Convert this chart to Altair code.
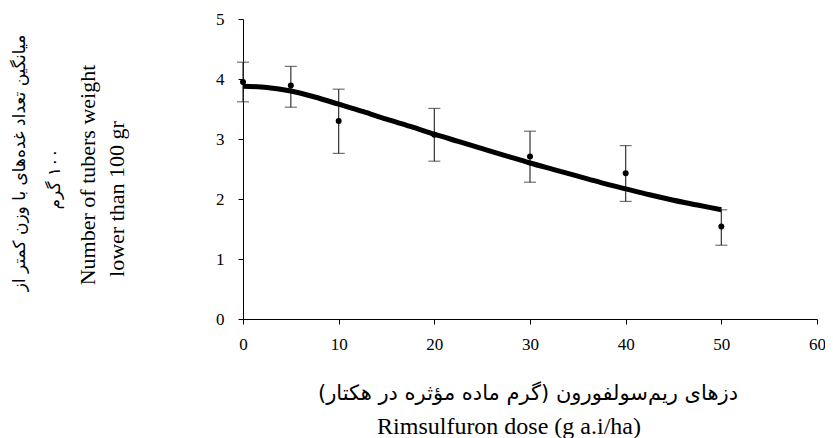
import altair as alt
import pandas as pd

# observed means and error bars
dose = [0, 5, 10, 20, 30, 40, 50]
mean = [3.95, 3.89, 3.30, 3.07, 2.71, 2.43, 1.54]
err_lo = [3.62, 3.53, 2.76, 2.63, 2.28, 1.96, 1.23]
err_hi = [4.28, 4.21, 3.83, 3.51, 3.13, 2.89, 1.82]

# fitted curve
curve_x = [0, 2.5, 5, 7.5, 10, 12.5, 15, 17.5, 20, 22.5, 25, 27.5, 30,
           32.5, 35, 37.5, 40, 42.5, 45, 47.5, 50]
curve_y = [3.88, 3.86, 3.80, 3.70, 3.58, 3.46, 3.33, 3.21, 3.08, 2.96, 2.84,
           2.72, 2.60, 2.49, 2.38, 2.27, 2.17, 2.07, 1.98, 1.90, 1.82]

x_ticks = [0, 10, 20, 30, 40, 50, 60]
y_ticks = [0, 1, 2, 3, 4, 5]

y_title_fa_1 = "میانگین تعداد غده‌های با وزن کمتر از"
y_title_fa_2 = "\u200f۱۰۰ گرم"
y_title_en_1 = "Number of tubers weight"
y_title_en_2 = "lower than 100 gr"
x_title_fa = "دزهای ریم‌سولفورون (گرم ماده مؤثره در هکتار)"
x_title_en = "Rimsulfuron dose (g a.i/ha)"

obs = pd.DataFrame({"dose": dose, "mean": mean, "lo": err_lo, "hi": err_hi})
fit = pd.DataFrame({"dose": curve_x, "fit": curve_y})

SERIF = "Liberation Serif"
FA = "DejaVu Sans"

xscale = alt.Scale(domain=[0, 60], nice=False, zero=False)
yscale = alt.Scale(domain=[0, 5], nice=False)

common_axis = dict(grid=False, title=None, tickSize=5, format="d",
                   labelFont=SERIF, labelFontSize=17, labelColor="black",
                   domainColor="black", tickColor="black")
xaxis = alt.Axis(values=x_ticks, labelPadding=12, labelFlush=False,
                 **common_axis)
yaxis = alt.Axis(values=y_ticks, labelPadding=14, **common_axis)

X = alt.X("dose:Q", scale=xscale, axis=xaxis)

rules = alt.Chart(obs).mark_rule(color="#333333", strokeWidth=1.2).encode(
    x=X,
    y=alt.Y("lo:Q", scale=yscale, axis=yaxis),
    y2="hi:Q",
)
cap_lo = alt.Chart(obs).mark_tick(color="#333333", size=12, thickness=1.2,
                                  orient="horizontal").encode(
    x=X, y=alt.Y("lo:Q", scale=yscale, axis=yaxis))
cap_hi = alt.Chart(obs).mark_tick(color="#333333", size=12, thickness=1.2,
                                  orient="horizontal").encode(
    x=X, y=alt.Y("hi:Q", scale=yscale, axis=yaxis))
pts = alt.Chart(obs).mark_circle(color="black", size=36, opacity=1).encode(
    x=X, y=alt.Y("mean:Q", scale=yscale, axis=yaxis))
line = alt.Chart(fit).mark_line(color="black", strokeWidth=5,
                                interpolate="monotone").encode(
    x=X, y=alt.Y("fit:Q", scale=yscale, axis=yaxis))


def label(text, x, y, font, size, angle=0):
    return alt.Chart(pd.DataFrame({"t": [text]})).mark_text(
        font=font, fontSize=size, color="black", angle=angle,
        align="center", baseline="middle").encode(
        text="t:N", x=alt.value(x), y=alt.value(y))


titles = [
    label(y_title_fa_1, -223, 144, FA, 17, 270),
    label(y_title_fa_2, -188, 160, FA, 17, 270),
    label(y_title_en_1, -155, 156, SERIF, 22, 270),
    label(y_title_en_2, -126, 180, SERIF, 22, 270),
    label(x_title_fa, 285, 375, FA, 21),
    label(x_title_en, 266, 408, SERIF, 24),
]

chart = alt.layer(rules, cap_lo, cap_hi, line, pts, *titles).properties(
    width=574, height=300,
    autosize=alt.AutoSizeParams(type="none"),
    padding={"left": 235, "top": 11, "right": 8, "bottom": 120},
).configure_view(stroke=None).configure_axis(
    labelFont=SERIF, labelFontSize=17, labelColor="black",
    domainColor="black", tickColor="black", grid=False,
)

chart.save("out.html", embed_options={"renderer": "svg", "actions": False})
